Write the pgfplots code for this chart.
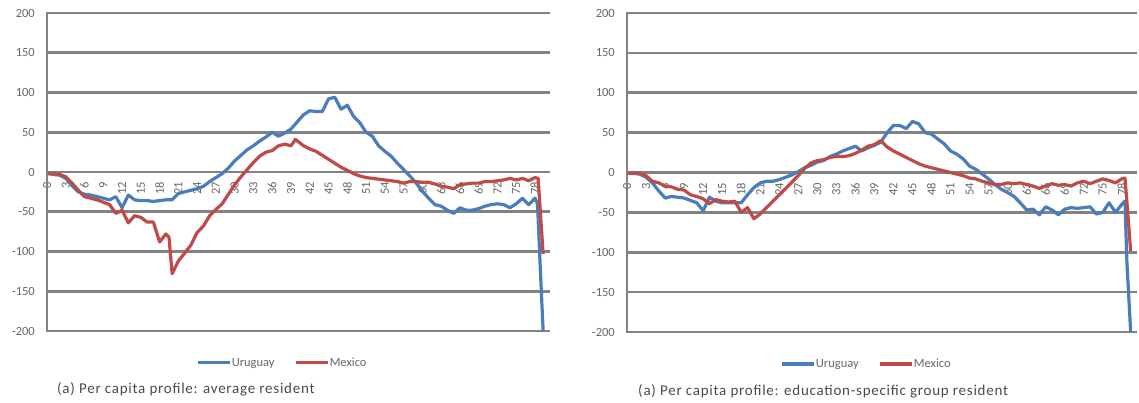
\documentclass[border=0pt]{standalone}
\usepackage{pgfplots}
\pgfplotsset{compat=1.18}
\usepackage{fontspec}
\setmainfont{Carlito}
\definecolor{ublue}{HTML}{4A7EBB}
\definecolor{mred}{HTML}{BE4B48}
\definecolor{gridc}{HTML}{828282}
\definecolor{tickc}{HTML}{666666}
\definecolor{capc}{HTML}{4A4A4A}
\newcommand\tickfont{\fontsize{12.5}{14}\selectfont}
\newcommand\capfont{\fontsize{15}{17}\selectfont\addfontfeatures{LetterSpace=5}}

\pgfplotsset{
  excelpanel/.style={
    scale only axis, anchor=south west,
    xmin=0, xmax=80.4, ymin=-200, ymax=200,
    enlargelimits=false,
    ytick={-200,-150,...,200}, xtick={0,3,...,78},
    ymajorgrids, grid style={gridc, line width=2.6pt},
    axis x line=middle, axis y line=left,
    axis line style={-, gridc, line width=2.6pt},
    hide obscured x ticks=false,
    major tick length=0pt,
    tick label style={font=\tickfont, text=tickc},
    xticklabel style={yshift=-9pt, rotate=90, anchor=east, inner sep=1pt},
    yticklabel style={xshift=-11pt, anchor=east, inner sep=1pt},
    /pgf/number format/assume math mode=true,
    legend columns=2,
    legend image code/.code={\draw[##1, line width=3.2pt] (0pt,0pt) -- (32pt,0pt);},
    legend style={draw=none, fill=none, font=\tickfont, text=tickc, inner sep=0pt,
      nodes={inner xsep=0.5pt, inner ysep=1pt},
      /tikz/every even column/.append style={column sep=19pt}},
    every axis plot/.append style={line width=3.2pt, line join=round},
  }
}

\begin{document}
\begin{tikzpicture}
\path[use as bounding box] (0pt,0pt) rectangle (1139pt,-403pt);

% ---------------- left panel ----------------
\begin{axis}[excelpanel, at={(47pt,-331pt)}, width=503pt, height=318pt,
  legend style={at={(0.296,-0.100)}, anchor=west}]
\addplot[ublue] table {
0 -2
1 -3
2 -4
3 -8
4 -17
5 -25
6 -28
7 -29
8 -31
9 -33
10 -35
11 -31
12 -45
13 -29
14 -35
15 -36
16 -36
17 -37
18 -36
19 -35
20 -35
21 -27
22 -25
23 -23
24 -21
25 -18
26 -12
27 -7
28 -2
29 5
30 14
31 21
32 28
33 33
34 39
35 44
36 50
37 45
38 49
39 54
40 63
41 72
42 77
43 76
44 76
45 92
46 94
47 79
48 84
49 70
50 62
51 50
52 45
53 33
54 26
55 20
56 11
57 3
58 -5
59 -14
60 -24
61 -33
62 -41
63 -43
64 -48
65 -52
66 -45
67 -48
68 -48
69 -46
70 -43
71 -41
72 -40
73 -41
74 -45
75 -40
76 -33
77 -41
78 -33
78.4 -40
78.8 -113
79.3 -200
};
\addlegendentry{Uruguay}
\addplot[mred] table {
0 -2
1 -2
2 -3
3 -6
4 -14
5 -23
6 -31
7 -33
8 -35
9 -38
10 -41
11 -52
12 -48
13 -64
14 -55
15 -57
16 -63
17 -63
18 -88
19 -78
19.5 -82
20 -128
21 -112
22 -102
23 -92
24 -76
25 -68
26 -55
27 -47
28 -40
29 -28
30 -16
31 -6
32 3
33 12
34 20
35 25
36 27
37 33
38 35
39 33
39.7 41
41 33
42 29
43 26
44 21
45 16
46 11
47 6
48 2
49 -2
50 -5
51 -7
52 -8
53 -9
54 -10
55 -11
56 -12
57 -14
58 -12
59 -12
60 -13
61 -13
62 -15
63 -18
64 -19
65 -21
66 -16
67 -15
68 -14
69 -14
70 -12
71 -12
72 -11
73 -10
74 -8
75 -10
76 -8
77 -11
78 -7
78.5 -8
79.3 -103
};
\addlegendentry{Mexico}
\end{axis}

% ---------------- right panel ----------------
\begin{axis}[excelpanel, at={(627pt,-332pt)}, width=510pt, height=319pt,
  legend style={at={(0.300,-0.100)}, anchor=west}]
\addplot[ublue] table {
0 -1
1 -1
2 -2
3 -6
4 -13
5 -23
6 -32
7 -30
8 -31
9 -32
10 -35
11 -38
12 -48
13 -31
14 -36
15 -38
16 -38
17 -38
18 -38
19 -28
20 -19
21 -13
22 -11
23 -11
24 -9
25 -6
26 -3
27 1
28 6
29 9
30 13
31 15
32 20
33 23
34 27
35 30
36 33
37 27
38 31
39 34
40 38
41 50
42 59
43 59
44 55
45 64
46 61
47 50
48 48
49 42
50 36
51 27
52 23
53 17
54 8
55 4
56 -2
57 -8
58 -15
59 -21
60 -25
61 -30
62 -38
63 -47
64 -46
65 -53
66 -43
67 -47
68 -53
69 -46
70 -44
71 -45
72 -44
73 -43
74 -52
75 -50
76 -38
77 -50
78 -40
78.5 -36
78.8 -111
79.4 -200
};
\addlegendentry{Uruguay}
\addplot[mred] table {
0 -1
1 -1
2 -1
3 -4
4 -11
5 -13
6 -17
7 -18
8 -21
9 -22
10 -28
11 -30
12 -33
13 -39
14 -34
15 -36
16 -37
17 -36
18 -50
19 -44
20 -58
21 -52
22 -44
23 -36
24 -28
25 -20
26 -12
27 -4
28 5
29 12
30 15
31 16
32 19
33 20
34 20
35 21
36 24
37 28
38 33
39 35
40 40
41 32
42 27
43 23
44 19
45 15
46 11
47 8
48 6
49 4
50 2
51 0
52 -2
53 -4
54 -7
55 -8
56 -11
57 -13
58 -15
59 -15
60 -13
61 -14
62 -13
63 -15
64 -17
65 -20
66 -17
67 -14
68 -16
69 -15
70 -17
71 -13
72 -11
73 -14
74 -11
75 -8
76 -10
77 -13
78 -8
78.5 -7
78.8 -36
79.4 -99
};
\addlegendentry{Mexico}
\end{axis}

% left vertical axis lines of both panels, as filled bars
\fill[gridc] (45.6pt,-332.3pt) rectangle (48.4pt,-11.7pt);
\fill[gridc] (625.6pt,-333.3pt) rectangle (628.4pt,-11.7pt);

\node[anchor=west, font=\capfont, text=capc, inner sep=0pt] at (57pt,-389pt)
  {(a) Per capita profile: average resident};
\node[anchor=west, font=\capfont, text=capc, inner sep=0pt] at (638pt,-391pt)
  {(a) Per capita profile: education-specific group resident};
\end{tikzpicture}
\end{document}
